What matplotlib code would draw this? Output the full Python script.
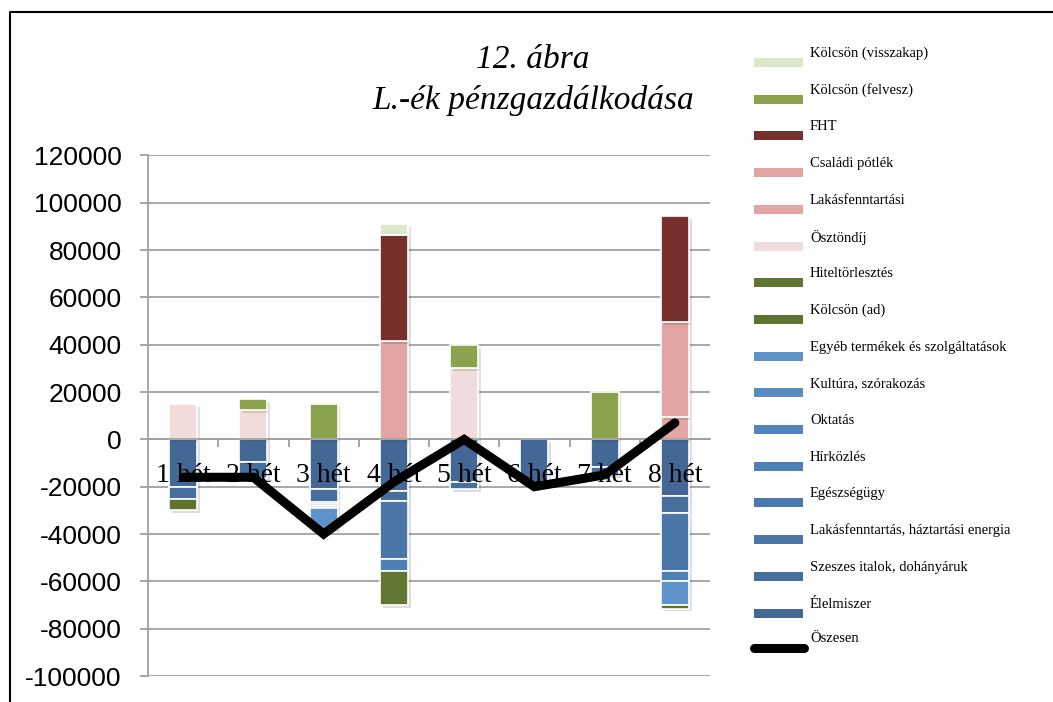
import numpy as np
import matplotlib
matplotlib.use("Agg")
import matplotlib.pyplot as plt
from matplotlib.patches import Rectangle
from matplotlib.lines import Line2D
import matplotlib.patheffects as pe

plt.rcParams['axes.unicode_minus'] = False

weeks = ["1 hét", "2 hét", "3 hét", "4 hét", "5 hét", "6 hét", "7 hét", "8 hét"]

# stacking order (first = closest to zero)
elelmiszer = [-20000, -9500, -21000, -22000, -18000, -19000, -11500, -24000]
szeszes = [-5000, -7000, -5500, -4000, -3000, 0, -3500, -7000]
lakasfenntartas = [0, 0, 0, -24500, 0, 0, 0, -24500]
egeszsegugy = [0, 0, -800, 0, 0, 0, 0, 0]
hirkozles = [0, 0, -800, -5000, 0, 0, 0, -4500]
oktatas = [0, 0, -800, 0, 0, 0, 0, 0]
kultura = [0, 0, 0, 0, 0, 0, 0, 0]
egyeb = [0, 0, -9000, 0, 0, 0, 0, -10000]
kolcson_ad = [-5000, 0, 0, 0, 0, 0, 0, -1500]
hiteltorlesztes = [0, 0, 0, -14500, 0, 0, 0, 0]
osztondij = [15000, 12500, 0, 0, 30000, 0, 0, 0]
lakasfenntartasi = [0, 0, 0, 0, 0, 0, 0, 9500]
csaladi_potlek = [0, 0, 0, 41500, 0, 0, 0, 40000]
fht = [0, 0, 0, 45000, 0, 0, 0, 45000]
kolcson_felvesz = [0, 4500, 15000, 0, 10000, 0, 20000, 0]
kolcson_visszakap = [0, 0, 0, 4500, 0, 0, 0, 0]
osszesen = [-16000, -16000, -40000, -18000, 0, -20000, -15000, 7000]

series = [
    ("Élelmiszer", elelmiszer, "#436895"),
    ("Szeszes italok, dohányáruk", szeszes, "#466f9e"),
    ("Lakásfenntartás, háztartási energia", lakasfenntartas, "#4a76a8"),
    ("Egészségügy", egeszsegugy, "#4c7aae"),
    ("Hírközlés", hirkozles, "#4f80b5"),
    ("Oktatás", oktatas, "#5385bc"),
    ("Kultúra, szórakozás", kultura, "#578bc2"),
    ("Egyéb termékek és szolgáltatások", egyeb, "#5e93c9"),
    ("Kölcsön (ad)", kolcson_ad, "#5f7330"),
    ("Hiteltörlesztés", hiteltorlesztes, "#617633"),
    ("Ösztöndíj", osztondij, "#f2dcdb"),
    ("Lakásfenntartási", lakasfenntartasi, "#e3a6a5"),
    ("Családi pótlék", csaladi_potlek, "#e2a5a3"),
    ("FHT", fht, "#772f2c"),
    ("Kölcsön (felvesz)", kolcson_felvesz, "#8ba34c"),
    ("Kölcsön (visszakap)", kolcson_visszakap, "#dde8cb"),
]

fig = plt.figure(figsize=(10.53, 7.02), dpi=100)
ax = fig.add_axes([148 / 1053, 1 - 676 / 702, 562 / 1053, (676 - 155.5) / 702])

x = np.arange(len(weeks))
pos_bottom = np.zeros(len(weeks))
neg_bottom = np.zeros(len(weeks))
shadow = [pe.SimplePatchShadow(offset=(2, -2), alpha=0.15), pe.Normal()]
for name, vals, color in series:
    v = np.array(vals, dtype=float)
    pos = v > 0
    neg = v < 0
    if pos.any():
        ax.bar(x[pos], v[pos], bottom=pos_bottom[pos], width=0.4, color=color,
               edgecolor="white", linewidth=1.2, zorder=2, path_effects=shadow)
        pos_bottom[pos] += v[pos]
    if neg.any():
        ax.bar(x[neg], v[neg], bottom=neg_bottom[neg], width=0.4, color=color,
               edgecolor="white", linewidth=1.2, zorder=2, path_effects=shadow)
        neg_bottom[neg] += v[neg]

ax.plot(x, osszesen, color="black", linewidth=6.5, zorder=6,
        solid_joinstyle="miter", solid_capstyle="round")

# spine position first: it resets the ticks
ax.spines["bottom"].set_position(("data", 0))
ax.spines["bottom"].set_color("#a0a0a0")
ax.spines["bottom"].set_linewidth(1.3)
ax.spines["left"].set_color("#a0a0a0")
ax.spines["left"].set_linewidth(1.3)
ax.spines["top"].set_visible(False)
ax.spines["right"].set_visible(False)
ax.set_facecolor("none")

ax.set_xlim(-0.5, len(weeks) - 0.5)
ax.set_ylim(-100000, 120000)
ax.set_yticks(np.arange(-100000, 120001, 20000))
ax.yaxis.grid(True, color="#a0a0a0", linewidth=1.3)
ax.yaxis.set_zorder(0.5)
ax.xaxis.set_zorder(4)

ax.set_xticks(x)
ax.set_xticks(np.arange(0.5, len(weeks) - 0.5, 1), minor=True)
ax.set_xticklabels(weeks)
ax.tick_params(axis="x", which="major", length=0, pad=17, labelsize=20)
ax.tick_params(axis="x", which="minor", length=6, width=1.3, color="#a0a0a0", direction="out")
ax.tick_params(axis="y", length=6, width=1.3, color="#a0a0a0", pad=13, labelsize=19)
for lab in ax.get_xticklabels():
    lab.set_family("Liberation Serif")
for lab in ax.get_yticklabels():
    lab.set_family("Liberation Sans")

# title
fig.text(533 / 1053, 1 - 60 / 702, "12. ábra", family="Liberation Serif", style="italic",
         fontsize=24, ha="center", va="center")
fig.text(533 / 1053, 1 - 101 / 702, "L.-ék pénzgazdálkodása", family="Liberation Serif",
         style="italic", fontsize=24, ha="center", va="center")

# legend (drawn by hand, reversed order, text raised above the swatch)
W, H = 1053.0, 702.0
entries = list(reversed(series))
for i, (name, vals, color) in enumerate(entries):
    yc = 62.5 + i * 36.7
    fig.patches.append(Rectangle((754 / W, 1 - (yc + 4.5) / H), 49 / W, 9 / H,
                                 transform=fig.transFigure, facecolor=color,
                                 edgecolor="none"))
    fig.text(810 / W, 1 - (yc - 9) / H, name, family="Liberation Serif", fontsize=10.5,
             ha="left", va="center")
yc = 62.5 + len(entries) * 36.7
fig.lines.append(Line2D([754 / W, 804 / W], [1 - (yc - 2) / H, 1 - (yc - 2) / H],
                        transform=fig.transFigure, color="black", linewidth=6.5,
                        solid_capstyle="round"))
fig.text(810 / W, 1 - (yc - 11) / H, "Öszesen", family="Liberation Serif", fontsize=10.5,
         ha="left", va="center")

# outer frame
fig.lines.append(Line2D([10 / W, 10 / W, 1.0], [0.0, 1 - 12 / H, 1 - 12 / H],
                        transform=fig.transFigure, color="black", linewidth=1.5))

fig.savefig("out.png", dpi=100)
